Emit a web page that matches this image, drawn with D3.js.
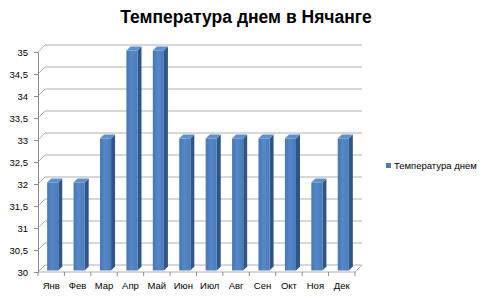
<!DOCTYPE html>
<html>
<head>
<meta charset="utf-8">
<script src="https://cdn.jsdelivr.net/npm/d3@7"></script>
<style>
  body { margin: 0; background: #fff; }
  svg text { font-family: "Liberation Sans", Arial, sans-serif; }
</style>
</head>
<body>
<svg id="chart" width="488" height="300"></svg>
<script>
// data
var months = ['Янв', 'Фев', 'Мар', 'Апр', 'Май', 'Июн', 'Июл', 'Авг', 'Сен', 'Окт', 'Ноя', 'Дек'];
var temps = [32, 32, 33, 35, 35, 33, 33, 33, 33, 33, 32, 33];
var yTicks = [30, 30.5, 31, 31.5, 32, 32.5, 33, 33.5, 34, 34.5, 35];
var seriesName = 'Температура днем';
var titleText = 'Температура днем в Нячанге';

var svg = d3.select('#chart');

// geometry
var plotLeft = 38, plotRight = 355, plotBottom = 272, plotTop = 52;
var depth = { dx: 7, dy: -7 };        // back wall offset
var barShift = { dx: 1.5, dy: -1.5 }; // bar front face offset into depth
var barDepth = { dx: 4, dy: -4 };

var x = d3.scaleBand().domain(months).range([plotLeft, plotRight]);
var y = d3.scaleLinear().domain([30, 35]).range([plotBottom, plotTop]);

var gridColor = '#b0b0b0',
    axisColor = '#8c8c8c';

// title
svg.append('text')
    .attr('x', 246).attr('y', 23)
    .attr('text-anchor', 'middle')
    .style('font-size', '17.5px')
    .style('font-weight', 'bold')
    .text(titleText);

// gridlines on the wall (diagonal from axis, then along the back wall)
var grid = svg.append('g');
yTicks.forEach(function(v){
    var yy = y(v);
    grid.append('path')
        .attr('d', 'M' + plotLeft + ',' + yy + 'L' + (plotLeft + depth.dx) + ',' + (yy + depth.dy) +
                   'L' + (plotRight + depth.dx) + ',' + (yy + depth.dy))
        .attr('fill', 'none')
        .attr('stroke', gridColor)
        .attr('stroke-width', 1);
});

// floor front + right edge
svg.append('path')
    .attr('d', 'M' + plotLeft + ',' + plotBottom + 'L' + plotRight + ',' + plotBottom +
               'L' + (plotRight + depth.dx) + ',' + (plotBottom + depth.dy))
    .attr('fill', 'none')
    .attr('stroke', gridColor);

// y axis
var fmt = function(v){ return String(v).replace('.', ','); };
var yAxis = svg.append('g')
    .attr('transform', 'translate(' + plotLeft + ',0)')
    .call(d3.axisLeft(y).tickValues(yTicks).tickFormat(fmt).tickSize(4).tickPadding(6));
yAxis.select('.domain').attr('stroke', axisColor);
yAxis.selectAll('.tick line').attr('stroke', axisColor);
yAxis.selectAll('text')
    .style('font-size', '9.5px')
    .style('font-family', '"Liberation Sans", Arial, sans-serif')
    .attr('fill', '#000');

// x axis: labels, ticks at category boundaries
var xAxis = svg.append('g')
    .attr('transform', 'translate(0,' + plotBottom + ')')
    .call(d3.axisBottom(x).tickSize(0).tickPadding(10));
xAxis.select('.domain').remove();
xAxis.selectAll('text')
    .style('font-size', '9.5px')
    .style('font-family', '"Liberation Sans", Arial, sans-serif')
    .attr('fill', '#000');
var bounds = months.map(function(m){ return x(m); }).concat([plotRight]);
svg.append('g').selectAll('line')
    .data(bounds)
    .enter().append('line')
    .attr('x1', function(d){ return d; }).attr('x2', function(d){ return d; })
    .attr('y1', plotBottom).attr('y2', plotBottom + 4)
    .attr('stroke', axisColor);

// bar gradient
var defs = svg.append('defs');
var grad = defs.append('linearGradient').attr('id', 'frontGrad')
    .attr('x1', '0%').attr('x2', '100%').attr('y1', '0%').attr('y2', '0%');
grad.append('stop').attr('offset', '0%').attr('stop-color', '#4677b4');
grad.append('stop').attr('offset', '45%').attr('stop-color', '#5588c8');
grad.append('stop').attr('offset', '100%').attr('stop-color', '#4a7cba');

// bars
var barW = x.bandwidth() * 0.42;
var bars = svg.append('g').selectAll('g')
    .data(temps)
    .enter().append('g');

function bx(d, i){ return x(months[i]) + (x.bandwidth() - barW) / 2 + barShift.dx; }
function by(d){ return y(d) + barShift.dy; }
var baseY = plotBottom + barShift.dy;

// right side
bars.append('path')
    .attr('d', function(d, i){
        var x0 = bx(d, i) + barW, y0 = by(d);
        return 'M' + x0 + ',' + y0 + 'L' + (x0 + barDepth.dx) + ',' + (y0 + barDepth.dy) +
               'L' + (x0 + barDepth.dx) + ',' + (baseY + barDepth.dy) + 'L' + x0 + ',' + baseY + 'Z';
    })
    .attr('fill', '#2f5687');

// top
bars.append('path')
    .attr('d', function(d, i){
        var x0 = bx(d, i), y0 = by(d);
        return 'M' + x0 + ',' + y0 + 'L' + (x0 + barDepth.dx) + ',' + (y0 + barDepth.dy) +
               'L' + (x0 + barW + barDepth.dx) + ',' + (y0 + barDepth.dy) + 'L' + (x0 + barW) + ',' + y0 + 'Z';
    })
    .attr('fill', '#5d90d0');

// front
bars.append('rect')
    .attr('x', bx)
    .attr('y', by)
    .attr('width', barW)
    .attr('height', function(d){ return baseY - by(d); })
    .attr('fill', 'url(#frontGrad)');

// legend
var legend = svg.append('g').attr('transform', 'translate(386,163)');
legend.append('rect')
    .attr('width', 5).attr('height', 5)
    .attr('fill', '#4a7cba');
legend.append('text')
    .attr('x', 8).attr('y', 6)
    .style('font-size', '9.5px')
    .text(seriesName);
</script>
</body>
</html>
